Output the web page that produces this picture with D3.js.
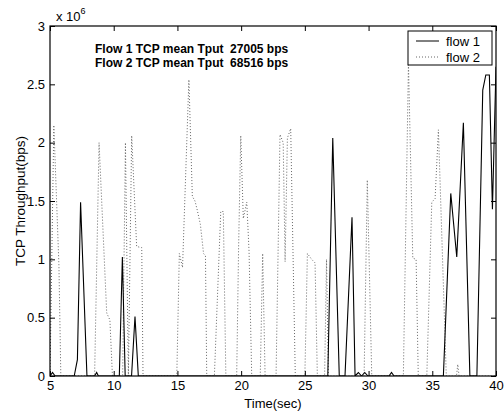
<!DOCTYPE html>
<html>
    <head>
        <title>TCP Throughput</title>
        <meta charset="UTF-8">
        <script src="https://d3js.org/d3.v7.min.js" charset="utf-8"></script>
        <style>
            body { margin: 0; background: #fff; }
            text { font-family: "Liberation Sans", Arial, sans-serif; }
        </style>
    </head>
    <body>
        <script>
            // throughput values are in units of 10^6 bps
            var flow1Time = [5.0, 5.2, 5.4, 6.9, 7.15, 7.4, 7.9, 8.5, 8.66, 8.8, 10.44, 10.68, 10.9, 11.4, 11.67, 11.93,
                26.8, 27.19, 27.7, 28.15, 28.7, 28.94, 29.2, 29.45, 29.7, 29.95, 31.6, 31.8, 32.0,
                35.87, 36.45, 36.92, 37.44, 37.95, 38.5, 38.96, 39.2, 39.48, 39.72, 40.0];
            var flow1Tput = [0, 0.03, 0, 0, 0.14, 1.49, 0, 0, 0.03, 0, 0, 1.02, 0, 0, 0.51, 0,
                0, 2.04, 0, 0, 1.36, 0, 0.03, 0, 0.03, 0, 0, 0.03, 0,
                0, 1.565, 1.02, 2.17, 0, 0, 2.45, 2.58, 2.58, 1.43, 2.65];

            var flow2Time = [5.0, 5.3, 5.7, 5.85, 8.5, 8.85, 9.45, 9.7, 9.9, 10.7, 10.92, 11.15, 11.41, 11.8, 12.2, 12.3,
                14.95, 15.15, 15.4, 15.9, 16.17, 16.38, 16.56, 16.8, 17.05, 17.2, 17.3, 17.9, 18.4, 18.6, 18.8,
                19.65, 19.8, 19.97, 20.17, 20.44, 20.62, 20.83, 21.5, 21.69, 21.88,
                22.74, 23.05, 23.3, 23.45, 23.63, 23.89, 24.25, 25.0, 25.2, 25.53, 25.8, 25.98, 26.55, 26.7, 26.85,
                29.65, 29.9, 30.25, 32.73, 33.13, 33.47, 33.73, 33.9, 34.57, 34.96, 35.22, 35.48, 36.1, 36.9, 37.0, 37.1, 40.0];
            var flow2Tput = [0, 2.15, 0.95, 0, 0, 2.0, 0.54, 0.48, 0, 0, 2.0, 0, 2.06, 1.11, 1.1, 0,
                0, 1.05, 0.93, 2.54, 1.54, 1.5, 1.42, 1.3, 1.05, 1.03, 0, 0, 1.41, 1.41, 0,
                0, 1.1, 2.06, 1.35, 1.49, 1.07, 0, 0, 1.05, 0,
                0, 2.07, 2.0, 0.98, 2.04, 2.12, 0, 0, 1.05, 1.0, 0.97, 0, 0, 1.0, 0,
                0, 1.68, 0, 0, 2.68, 1.01, 1.0, 0, 0, 1.49, 1.52, 2.11, 0, 0, 0.1, 0, 0];

            var xTicks = [5, 10, 15, 20, 25, 30, 35, 40];
            var yTicks = [0, 0.5, 1, 1.5, 2, 2.5, 3];
            var seriesNames = ["flow 1", "flow 2"];
            var meanTput = [27005, 68516];

            function init(){
                var svg = d3.select("body").append("svg")
                    .attr("width", 504)
                    .attr("height", 417);

                var left = 50, right = 496, top = 26, bottom = 376;
                var x = d3.scaleLinear().domain([5, 40]).range([left, right]);
                var y = d3.scaleLinear().domain([0, 3]).range([bottom, top]);

                var plot = svg.append("g");

                // lines
                var line = d3.line()
                    .x(function(d){ return x(d[0]); })
                    .y(function(d){ return y(d[1]); });

                svg.append("clipPath").attr("id", "clip")
                    .append("rect").attr("x", left).attr("y", top)
                    .attr("width", right - left).attr("height", bottom - top);

                plot.append("path")
                    .datum(d3.zip(flow2Time, flow2Tput))
                    .attr("clip-path", "url(#clip)")
                    .attr("fill", "none")
                    .attr("stroke", "#666")
                    .attr("stroke-width", 1)
                    .attr("stroke-dasharray", "1,2")
                    .attr("d", line);

                plot.append("path")
                    .datum(d3.zip(flow1Time, flow1Tput))
                    .attr("clip-path", "url(#clip)")
                    .attr("fill", "none")
                    .attr("stroke", "#000")
                    .attr("stroke-width", 1.1)
                    .attr("d", line);

                // axes (ticks inside, box on)
                var fmt = function(d){ return String(d); };
                svg.append("g").attr("transform", "translate(0," + bottom + ")")
                    .call(d3.axisBottom(x).tickValues(xTicks).tickSizeInner(-5).tickSizeOuter(0).tickPadding(5).tickFormat(fmt));
                svg.append("g").attr("transform", "translate(0," + top + ")")
                    .call(d3.axisTop(x).tickValues(xTicks).tickSizeInner(-5).tickSizeOuter(0).tickFormat(""));
                svg.append("g").attr("transform", "translate(" + left + ",0)")
                    .call(d3.axisLeft(y).tickValues(yTicks).tickSizeInner(-5).tickSizeOuter(0).tickPadding(5).tickFormat(fmt));
                svg.append("g").attr("transform", "translate(" + right + ",0)")
                    .call(d3.axisRight(y).tickValues(yTicks).tickSizeInner(-5).tickSizeOuter(0).tickFormat(""));

                svg.selectAll(".domain").remove();
                svg.selectAll(".tick line").attr("stroke", "#000");
                svg.selectAll(".tick text").attr("font-size", 13).attr("fill", "#000")
                    .attr("font-family", "Liberation Sans, Arial, sans-serif");

                svg.append("rect")
                    .attr("x", left).attr("y", top)
                    .attr("width", right - left).attr("height", bottom - top)
                    .attr("fill", "none").attr("stroke", "#000").attr("stroke-width", 1.2);

                // exponent
                var ex = svg.append("text").attr("x", 56).attr("y", 21)
                    .attr("font-size", 13);
                ex.append("tspan").text("x 10");
                ex.append("tspan").attr("font-size", 9).attr("dy", -7).text("6");

                // axis labels
                svg.append("text").attr("x", (left + right) / 2).attr("y", 408)
                    .attr("text-anchor", "middle").attr("font-size", 13).text("Time(sec)");
                svg.append("text")
                    .attr("transform", "translate(25," + (top + bottom) / 2 + ") rotate(-90)")
                    .attr("text-anchor", "middle").attr("font-size", 13.5).text("TCP Throughput(bps)");

                // mean annotations
                meanTput.forEach(function(m, i){
                    svg.append("text").attr("x", 95).attr("y", 52.5 + i * 14)
                        .attr("font-size", 12).attr("font-weight", "bold")
                        .attr("xml:space", "preserve")
                        .text("Flow " + (i + 1) + " TCP mean Tput  " + m + " bps");
                });

                // legend
                var lg = svg.append("g");
                lg.append("rect").attr("x", 408).attr("y", 31).attr("width", 84).attr("height", 34)
                    .attr("fill", "#fff").attr("stroke", "#000").attr("stroke-width", 1);
                seriesNames.forEach(function(name, i){
                    var yy = 41 + i * 16;
                    lg.append("line").attr("x1", 416).attr("x2", 439).attr("y1", yy).attr("y2", yy)
                        .attr("stroke", i === 0 ? "#000" : "#666")
                        .attr("stroke-dasharray", i === 0 ? null : "1,2");
                    lg.append("text").attr("x", 446).attr("y", yy + 4.5)
                        .attr("font-size", 13).text(name);
                });
            }

            init();
        </script>
    </body>
</html>
